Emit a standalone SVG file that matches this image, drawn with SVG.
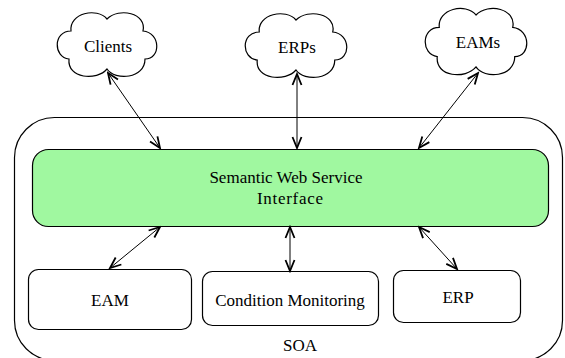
<svg xmlns="http://www.w3.org/2000/svg" width="565" height="358" viewBox="0 0 565 358">
<style>
.box{fill:#fff;stroke:#000;stroke-width:1.2}
.green{fill:#a0f8a0;stroke:#000;stroke-width:1.2}
.cloud{fill:#fff;stroke:#000;stroke-width:1.2}
.lbl{font-family:"Liberation Serif","Times New Roman",serif;font-size:17px;fill:#000;text-anchor:middle}
.conn{stroke:#000;stroke-width:1;fill:none;marker-start:url(#ah);marker-end:url(#ah)}
</style>
<defs>
<marker id="ah" markerUnits="userSpaceOnUse" markerWidth="14" markerHeight="14" refX="12" refY="5" orient="auto-start-reverse" viewBox="0 0 14 10">
<path d="M1,0.5 L12,5 L1,9.5" fill="none" stroke="#000" stroke-width="1.8"/>
</marker>
<path id="cloudShape" d="M-36,-14 C-38,-32 -10,-38 0,-26 C12,-38 40,-32 36,-14 C54,-12 54,14 38,14 C38,34 8,36 0,24 C-10,36 -40,34 -38,14 C-54,12 -54,-14 -36,-14 Z"/>
</defs>
<g id="soa">
<rect class="box" x="14.5" y="117.5" width="548" height="243" rx="40" ry="40"/>
<text class="lbl" x="300" y="351">SOA</text>
</g>
<g id="sws">
<rect class="green" x="32.5" y="149.5" width="516" height="77" rx="16" ry="16"/>
<text class="lbl" x="286" y="183">Semantic Web Service</text>
<text class="lbl" x="290" y="204" textLength="66" lengthAdjust="spacing">Interface</text>
</g>
<g id="eam">
<rect class="box" x="28.5" y="269.5" width="163" height="60" rx="10" ry="10"/>
<text class="lbl" x="110" y="306">EAM</text>
</g>
<g id="cm">
<rect class="box" x="202.5" y="271.5" width="176" height="54" rx="10" ry="10"/>
<text class="lbl" x="290" y="306">Condition Monitoring</text>
</g>
<g id="erp">
<rect class="box" x="393.5" y="270.5" width="127" height="52" rx="10" ry="10"/>
<text class="lbl" x="458" y="303">ERP</text>
</g>
<g id="clients">
<use href="#cloudShape" class="cloud" transform="translate(107,45) scale(1.0,1.0)"/>
<text class="lbl" x="108" y="52">Clients</text>
</g>
<g id="erps">
<use href="#cloudShape" class="cloud" transform="translate(296,46) scale(1.02,1.0)"/>
<text class="lbl" x="297" y="53">ERPs</text>
</g>
<g id="eams">
<use href="#cloudShape" class="cloud" transform="translate(476,42) scale(1.02,1.04)"/>
<text class="lbl" x="478" y="48">EAMs</text>
</g>
<g id="connectors">
<line class="conn" x1="108" y1="73" x2="160" y2="148"/>
<line class="conn" x1="297" y1="74" x2="297" y2="148"/>
<line class="conn" x1="478" y1="73" x2="419" y2="148"/>
<line class="conn" x1="160" y1="227" x2="110" y2="268"/>
<line class="conn" x1="290" y1="227" x2="290" y2="271"/>
<line class="conn" x1="419" y1="227" x2="457" y2="269"/>
</g>
</svg>
